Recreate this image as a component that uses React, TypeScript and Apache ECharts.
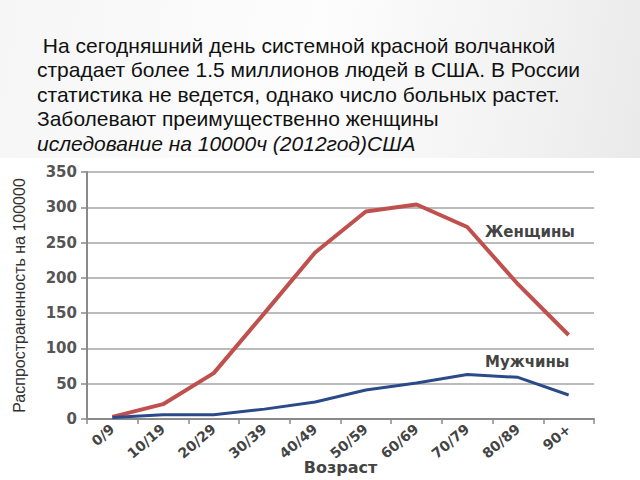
import React, { useEffect, useRef } from "react";
import * as echarts from "echarts";

const categories = ["0/9", "10/19", "20/29", "30/39", "40/49", "50/59", "60/69", "70/79", "80/89", "90+"];
const women = [3, 21, 65, 150, 236, 294, 304, 272, 191, 119];
const men = [2, 6, 6, 14, 24, 41, 51, 63, 59, 34];
const titleLines = [
  " На сегодняшний день системной красной волчанкой",
  "страдает более 1.5 миллионов людей в США. В России",
  "статистика не ведется, однако число больных растет.",
  "Заболевают преимущественно женщины",
];
const subtitle = "иследование на 10000ч (2012год)США";
const yAxisName = "Распространенность на 100000";
const xAxisName = "Возраст";
const womenLabel = "Женщины";
const menLabel = "Мужчины";

export default function App() {
  const ref = useRef<HTMLDivElement>(null);
  useEffect(() => {
    if (!ref.current) return;
    const chart = echarts.init(ref.current, null, { renderer: "svg" });
    const titleFont = "'Liberation Sans', Arial, sans-serif";
    const graphics: any[] = [
      {
        type: "rect",
        z: -10,
        silent: true,
        shape: { x: 0, y: 158, width: 640, height: 322 },
        style: { fill: "#ffffff" },
      },
    ];
    titleLines.forEach((t, i) => {
      graphics.push({
        type: "text",
        x: 37,
        y: 45 + i * 24.5,
        style: {
          text: t,
          fill: "#111",
          font: `21px ${titleFont}`,
          textVerticalAlign: "middle",
        },
      });
    });
    graphics.push({
      type: "text",
      x: 37,
      y: 45 + 4 * 24.5,
      style: {
        text: subtitle,
        fill: "#111",
        font: `italic 21px ${titleFont}`,
        textVerticalAlign: "middle",
      },
    });
    graphics.push({
      type: "text",
      x: 485,
      y: 232,
      style: { text: womenLabel, fill: "#444", font: "bold 15px 'DejaVu Sans', sans-serif", textVerticalAlign: "middle" },
    });
    graphics.push({
      type: "text",
      x: 485,
      y: 362,
      style: { text: menLabel, fill: "#444", font: "bold 15px 'DejaVu Sans', sans-serif", textVerticalAlign: "middle" },
    });

    chart.setOption({
      animation: false,
      backgroundColor: "transparent",
      grid: { left: 87, right: 46, top: 172, bottom: 61, containLabel: false, outerBoundsMode: "none" },
      graphic: graphics,
      xAxis: {
        type: "category",
        data: categories,
        boundaryGap: true,
        name: xAxisName,
        nameLocation: "middle",
        nameGap: 48,
        nameMoveOverlap: false,
        nameTextStyle: { fontFamily: "'DejaVu Sans', sans-serif", fontWeight: "bold", fontSize: 16, color: "#444", verticalAlign: "middle" },
        axisLine: { lineStyle: { color: "#8a8a8a", width: 2 } },
        axisTick: { show: true, length: 5, lineStyle: { color: "#8a8a8a", width: 1.5 } },
        axisLabel: {
          rotate: 40,
          fontFamily: "'DejaVu Sans', sans-serif",
          fontWeight: "bold",
          fontSize: 14,
          color: "#444",
          margin: 8,
        },
      },
      yAxis: {
        type: "value",
        min: 0,
        max: 350,
        interval: 50,
        name: yAxisName,
        nameLocation: "middle",
        nameGap: 60,
        nameMoveOverlap: false,
        nameTextStyle: { fontFamily: "'Liberation Sans', Arial, sans-serif", fontSize: 16, color: "#333" },
        axisLine: { show: true, lineStyle: { color: "#8a8a8a", width: 2 } },
        axisTick: { show: true, length: 6, lineStyle: { color: "#8a8a8a", width: 1.5 } },
        axisLabel: {
          fontFamily: "'DejaVu Sans', sans-serif",
          fontWeight: "bold",
          fontSize: 15,
          color: "#555",
          margin: 10,
        },
        splitLine: { lineStyle: { color: "#a5a5a5", width: 1.5 } },
      },
      series: [
        {
          name: womenLabel,
          type: "line",
          data: women,
          showSymbol: false,
          lineStyle: { color: "#c0504d", width: 4 },
          itemStyle: { color: "#c0504d" },
        },
        {
          name: menLabel,
          type: "line",
          data: men,
          showSymbol: false,
          lineStyle: { color: "#2b4a8a", width: 3 },
          itemStyle: { color: "#2b4a8a" },
        },
      ],
    });
    return () => chart.dispose();
  }, []);

  return (
    <div
      style={{
        position: "fixed",
        left: 0,
        top: 0,
        width: 640,
        height: 480,
        background: "linear-gradient(100deg, #f6f6f6 0%, #fdfdfd 45%, #f2f2f2 75%, #e6e6e6 100%)",
      }}
    >
      <div ref={ref} style={{ width: 640, height: 480 }} />
    </div>
  );
}
